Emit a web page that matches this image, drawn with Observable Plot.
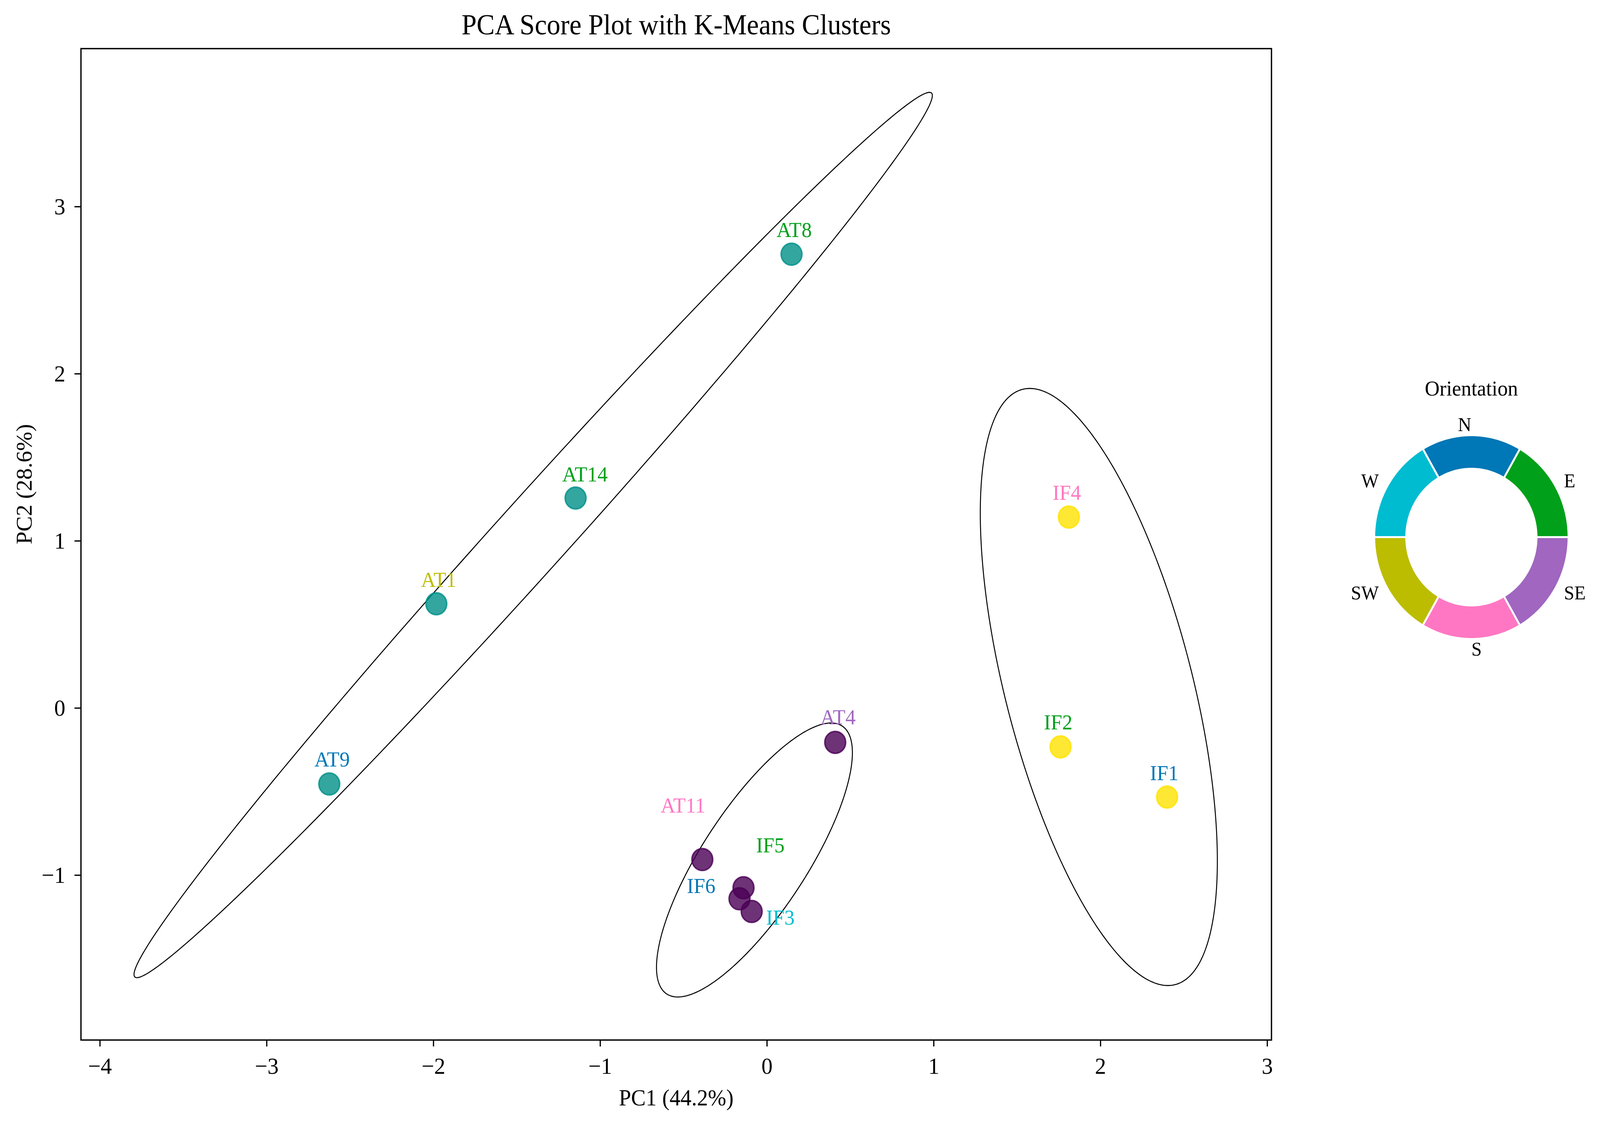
<!DOCTYPE html>
<html>
<head>
<meta charset="utf-8">
<script src="https://cdn.jsdelivr.net/npm/d3@7"></script>
<script src="https://cdn.jsdelivr.net/npm/@observablehq/plot@0.6"></script>
<style>
html, body { margin: 0; padding: 0; background: #fff; overflow: hidden; }
#wrap { position: relative; width: 4298px; height: 2876px; background: #fff; overflow: hidden; transform-origin: 0 0; font-family: "Liberation Serif", "DejaVu Serif", serif; }
#main { position: absolute; left: 0; top: 0; }
#legend { position: absolute; left: 3612px; top: 935px; }
</style>
</head>
<body>
<div id="wrap"><div id="main"></div><div id="legend"></div></div>
<script>
// ---- data ----
const samples     = ["AT8", "AT14", "AT1", "AT9", "AT4", "AT11", "IF5", "IF6", "IF3", "IF4", "IF2", "IF1"];
const pc1         = [0.147, -1.148, -1.983, -2.625, 0.409, -0.388, -0.141, -0.165, -0.092, 1.810, 1.760, 2.399];
const pc2         = [2.716, 1.257, 0.624, -0.454, -0.205, -0.906, -1.075, -1.141, -1.217, 1.143, -0.232, -0.532];
const cluster     = [1, 1, 1, 1, 0, 0, 0, 0, 0, 2, 2, 2];
const orientation = ["E", "E", "SW", "N", "SE", "S", "E", "N", "W", "S", "E", "N"];
// label anchor points (after label repulsion), in PC units
const labelPc1    = [0.163, -1.092, -1.969, -2.608, 0.426, -0.504, 0.020, -0.395, 0.080, 1.798, 1.746, 2.382];
const labelPc2    = [2.860, 1.397, 0.766, -0.308, -0.056, -0.583, -0.822, -1.065, -1.255, 1.287, -0.086, -0.389];

const clusterColors = ["#4a0055", "#009088", "#ffe200"];
const orientations  = ["N", "W", "SW", "S", "SE", "E"];          // pie order, counter-clockwise
const orientColors  = ["#0077b6", "#00bcd0", "#bcbd00", "#ff77c3", "#a066c0", "#00a01a"];

const xTicks = [-4, -3, -2, -1, 0, 1, 2, 3];
const yTicks = [-1, 0, 1, 2, 3];
const titleText   = "PCA Score Plot with K-Means Clusters";
const xLabelText  = "PC1 (44.2%)";
const yLabelText  = "PC2 (28.6%)";
const legendTitle = "Orientation";

// ---- fit the 4298x2876 layout into the actual viewport ----
const wrap = document.getElementById("wrap");
const sx = (window.innerWidth / 4298) || 1, sy = (window.innerHeight / 2876) || 1;
if (Math.abs(sx - 1) > 0.002 || Math.abs(sy - 1) > 0.002) wrap.style.transform = `scale(${sx}, ${sy})`;

// ---- derived tables ----
const orientColor = new Map(orientations.map((o, i) => [o, orientColors[i]]));
const points = samples.map((name, i) => ({
  name, x: pc1[i], y: pc2[i], cluster: cluster[i], orient: orientation[i],
  lx: labelPc1[i], ly: labelPc2[i]
}));

// 2-sigma covariance ellipse of each cluster
function covEllipse(pts, nstd, n) {
  const mx = d3.mean(pts, p => p.x), my = d3.mean(pts, p => p.y);
  const k = pts.length - 1;
  const sxx = d3.sum(pts, p => (p.x - mx) ** 2) / k;
  const syy = d3.sum(pts, p => (p.y - my) ** 2) / k;
  const sxy = d3.sum(pts, p => (p.x - mx) * (p.y - my)) / k;
  const tr = (sxx + syy) / 2, disc = Math.sqrt(((sxx - syy) / 2) ** 2 + sxy ** 2);
  const l1 = tr + disc, l2 = Math.max(tr - disc, 0);
  const ang = 0.5 * Math.atan2(2 * sxy, sxx - syy);
  const a = nstd * Math.sqrt(l1), b = nstd * Math.sqrt(l2);
  return d3.range(n).map(i => {
    const t = 2 * Math.PI * i / n;
    const ex = a * Math.cos(t), ey = b * Math.sin(t);
    return {x: mx + ex * Math.cos(ang) - ey * Math.sin(ang), y: my + ex * Math.sin(ang) + ey * Math.cos(ang)};
  });
}
const ellipses = d3.groups(points, d => d.cluster)
  .flatMap(([c, pts]) => covEllipse(pts, 2, 360).map(p => ({...p, c})));

const FONT = '"Liberation Serif", "DejaVu Serif", serif';
const intFormat = d3.format("d");

const main = Plot.plot({
  width: 3500, height: 2876,
  marginLeft: 217, marginRight: 85, marginTop: 124, marginBottom: 213,
  style: {fontFamily: FONT, fontSize: "60px", background: "white", color: "black", overflow: "visible"},
  x: {domain: [-4.114, 3.025]},
  y: {domain: [-1.986, 3.946]},
  color: {type: "identity"},
  marks: [
    Plot.line(ellipses, {x: "x", y: "y", z: "c", curve: "linear-closed", stroke: "black", strokeWidth: 2.6}),
    Plot.dot(points, {
      x: "x", y: "y", r: 28,
      fill: d => clusterColors[d.cluster], stroke: d => clusterColors[d.cluster],
      fillOpacity: 0.8, strokeOpacity: 0.8, strokeWidth: 4
    }),
    Plot.text(points, {x: "lx", y: "ly", text: "name", fill: d => orientColor.get(d.orient), fontSize: 55, lineAnchor: "middle"}),
    Plot.axisX({ticks: xTicks, tickFormat: intFormat, tickSize: 17, tickPadding: 27, fontSize: 60, strokeWidth: 3.3, label: null}),
    Plot.axisY({ticks: yTicks, tickFormat: intFormat, tickSize: 17, tickPadding: 25, fontSize: 60, strokeWidth: 3.3, label: null}),
    Plot.frame({stroke: "black", strokeWidth: 3.5}),
    Plot.text([titleText], {text: d => d, frameAnchor: "top", dy: -60, fontSize: 73, lineAnchor: "middle"}),
    Plot.text([xLabelText], {text: d => d, frameAnchor: "bottom", dy: 149, fontSize: 59, lineAnchor: "middle"}),
    Plot.text([yLabelText], {text: d => d, frameAnchor: "left", dx: -151, rotate: -90, fontSize: 59, lineAnchor: "middle"})
  ]
});
document.getElementById("main").append(main);

// ---- orientation donut legend ----
const step = 2 * Math.PI / orientations.length;
const start = Math.PI / 3;
const segs = orientations.map((o, i) => {
  const a0 = start + i * step, a1 = a0 + step;
  return {o, a0, a1, mid: (a0 + a1) / 2};
});
const inner = 175 / 261;
const ring = segs.flatMap(s => {
  const n = 48, pts = [];
  for (let j = 0; j <= n; j++) { const a = s.a0 + (s.a1 - s.a0) * j / n; pts.push({o: s.o, x: Math.cos(a), y: Math.sin(a)}); }
  for (let j = n; j >= 0; j--) { const a = s.a0 + (s.a1 - s.a0) * j / n; pts.push({o: s.o, x: inner * Math.cos(a), y: inner * Math.sin(a)}); }
  return pts;
});
const side = d => { const c = Math.cos(d.mid); return Math.abs(c) > 1e-6 ? c > 0 : Math.sin(d.mid) < 0; };
const LW = 680, LH = 880, R = 261;
const legend = Plot.plot({
  width: LW, height: LH, margin: 0,
  style: {fontFamily: FONT, fontSize: "50px", background: "transparent", color: "black", overflow: "visible"},
  x: {domain: [-LW / 2 / R, LW / 2 / R], axis: null},
  y: {domain: [-LH / 2 / R, LH / 2 / R], axis: null},
  color: {type: "identity"},
  marks: [
    Plot.line(ring, {x: "x", y: "y", z: "o", curve: "linear-closed", fill: d => orientColor.get(d.o), stroke: "white", strokeWidth: 5}),
    Plot.text(segs, {filter: d => side(d), x: d => 1.1 * Math.cos(d.mid), y: d => 1.1 * Math.sin(d.mid), text: "o", textAnchor: "start", lineAnchor: "middle", fontSize: 50}),
    Plot.text(segs, {filter: d => !side(d), x: d => 1.1 * Math.cos(d.mid), y: d => 1.1 * Math.sin(d.mid), text: "o", textAnchor: "end", lineAnchor: "middle", fontSize: 50}),
    Plot.text([legendTitle], {text: d => d, frameAnchor: "top", dy: 60, fontSize: 55, lineAnchor: "middle"})
  ]
});
document.getElementById("legend").append(legend);
</script>
</body>
</html>
